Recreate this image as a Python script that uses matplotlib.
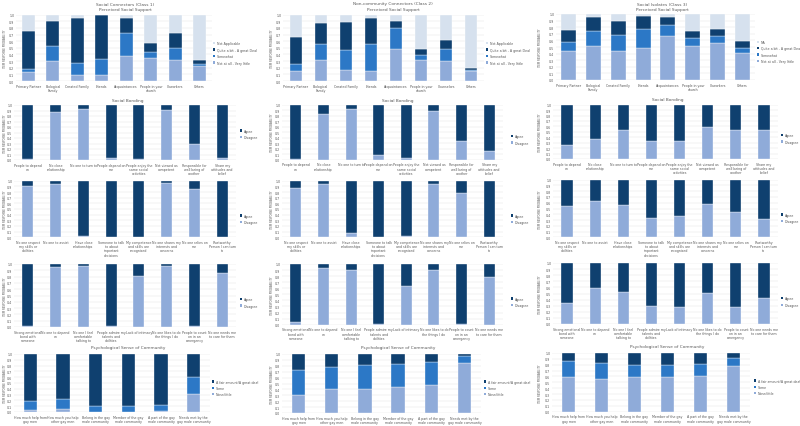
import numpy as np
import matplotlib
matplotlib.use('Agg')
import matplotlib.pyplot as plt
from matplotlib.patches import Patch

# ---------------- DATA ----------------
support_cats_c1 = ["Primary Partner", "Biological\nFamily", "Created Family", "Friends",
                   "Acquaintances", "People in your\nchurch", "Coworkers", "Others"]
support_cats_c2 = ["Primary Partner", "Biological\nFamily", "Created Family", "Friends",
                   "Acquaintances", "People in your\nchurch", "Counselors", "Others"]
support_cats_c3 = support_cats_c1

# Perceived social support (segments: not at all/very little, somewhat, quite a bit/great deal, not applicable)
c1_notatall = [0.13, 0.30, 0.095, 0.085, 0.375, 0.345, 0.31, 0.22]
c1_somewhat = [0.055, 0.225, 0.18, 0.25, 0.345, 0.09, 0.185, 0.04]
c1_quite = [0.575, 0.38, 0.675, 0.655, 0.23, 0.14, 0.23, 0.06]
c1_na = [0.24, 0.095, 0.05, 0.01, 0.05, 0.425, 0.275, 0.68]

c2_notatall = [0.15, 0.31, 0.165, 0.15, 0.49, 0.31, 0.30, 0.15]
c2_somewhat = [0.10, 0.245, 0.305, 0.405, 0.31, 0.085, 0.19, 0.015]
c2_quite = [0.42, 0.32, 0.415, 0.395, 0.11, 0.095, 0.125, 0.025]
c2_na = [0.33, 0.125, 0.115, 0.05, 0.09, 0.51, 0.385, 0.81]

c3_notatall = [0.445, 0.52, 0.445, 0.49, 0.67, 0.52, 0.555, 0.41]
c3_somewhat = [0.135, 0.22, 0.235, 0.29, 0.165, 0.115, 0.115, 0.075]
c3_quite = [0.18, 0.21, 0.22, 0.19, 0.125, 0.115, 0.11, 0.11]
c3_na = [0.24, 0.05, 0.10, 0.03, 0.04, 0.25, 0.22, 0.405]

bonding_cats_a = ["People to depend\non", "No close\nrelationship", "No one to turn to",
                  "People depend on\nme", "People enjoy the\nsame social\nactivities",
                  "Not viewed as\ncompetent", "Responsible for\nwell being of\nanother",
                  "Share my\nattitudes and\nbelief"]
bonding_cats_b = ["No one respect\nmy skills or\nabilities", "No one to assist",
                  "Have close\nrelationships", "Someone to talk\nto about\nimportant\ndecisions",
                  "My competence\nand skills are\nrecognized", "No one shares my\ninterests and\nconcerns",
                  "No one relies on\nme", "Trustworthy\nPerson I can turn\nto"]
bonding_cats_c = ["Strong emotional\nbond with\nsomeone", "No one to depend\non",
                  "No one I feel\ncomfortable\ntalking to", "People admire my\ntalents and\nabilities",
                  "Lack of intimacy", "No one likes to do\nthe things I do",
                  "People to count\non in an\nemergency", "No one needs me\nto care for them"]

c1_a_disagree = [0.01, 0.87, 0.93, 0.04, 0.01, 0.91, 0.30, 0.03]
c1_a_agree = [0.99, 0.13, 0.07, 0.96, 0.99, 0.09, 0.70, 0.97]
c2_a_disagree = [0.01, 0.83, 0.915, 0.09, 0.03, 0.89, 0.34, 0.15]
c2_a_agree = [0.99, 0.17, 0.085, 0.91, 0.97, 0.11, 0.66, 0.85]
c3_a_disagree = [0.265, 0.37, 0.54, 0.33, 0.34, 0.59, 0.54, 0.53]
c3_a_agree = [0.735, 0.63, 0.46, 0.67, 0.66, 0.41, 0.46, 0.47]

c1_b_disagree = [0.91, 0.95, 0.03, 0.005, 0.005, 0.96, 0.855, 0.005]
c1_b_agree = [0.09, 0.05, 0.97, 0.995, 0.995, 0.04, 0.145, 0.995]
c2_b_disagree = [0.87, 0.95, 0.07, 0.01, 0.03, 0.945, 0.79, 0.01]
c2_b_agree = [0.13, 0.05, 0.93, 0.99, 0.97, 0.055, 0.21, 0.99]
c3_b_disagree = [0.54, 0.635, 0.56, 0.335, 0.365, 0.57, 0.435, 0.31]
c3_b_agree = [0.46, 0.365, 0.44, 0.665, 0.635, 0.43, 0.565, 0.69]

c1_c_disagree = [0.02, 0.95, 0.97, 0.02, 0.805, 0.965, 0.02, 0.86]
c1_c_agree = [0.98, 0.05, 0.03, 0.98, 0.195, 0.035, 0.98, 0.14]
c2_c_disagree = [0.05, 0.935, 0.905, 0.01, 0.63, 0.90, 0.01, 0.78]
c2_c_agree = [0.95, 0.065, 0.095, 0.99, 0.37, 0.10, 0.99, 0.22]
c3_c_disagree = [0.35, 0.585, 0.52, 0.29, 0.28, 0.51, 0.28, 0.43]
c3_c_agree = [0.65, 0.415, 0.48, 0.71, 0.72, 0.49, 0.72, 0.57]

community_cats = ["How much help from\ngay men", "How much you help\nother gay men",
                  "Belong in the gay\nmale community", "Member of the gay\nmale community",
                  "A part of the gay\nmale community", "Needs met by the\ngay male community"]
c1_none = [0.035, 0.045, 0.005, 0.005, 0.01, 0.315]
c1_some = [0.155, 0.185, 0.095, 0.095, 0.105, 0.295]
c1_fair = [0.81, 0.77, 0.90, 0.90, 0.885, 0.39]
c2_none = [0.305, 0.405, 0.405, 0.445, 0.475, 0.85]
c2_some = [0.425, 0.38, 0.41, 0.385, 0.385, 0.11]
c2_fair = [0.27, 0.215, 0.185, 0.17, 0.14, 0.04]
c3_none = [0.59, 0.55, 0.59, 0.59, 0.60, 0.78]
c3_some = [0.27, 0.28, 0.20, 0.20, 0.205, 0.14]
c3_fair = [0.14, 0.17, 0.21, 0.21, 0.195, 0.08]

support_labels_c1 = ["Not Applicable", "Quite a bit - A great Deal", "Somewhat", "Not at all - Very little"]
support_labels_c3 = ["NA", "Quite a bit - A great Deal", "Somewhat", "Not at all - Very little"]
bond_labels = ["Agree", "Disagree"]
comm_labels = ["A fair amount/A great deal", "Some", "None/little"]

# ---------------- STYLE ----------------
DARK = '#0F406F'
MED = '#2C78C6'
LIGHT = '#8FABD9'
NA = '#D6E1EE'
TXT = '#595959'
FS = 2.35

W, H = 800, 427
fig = plt.figure(figsize=(8, 4.27), dpi=100)
fig.patch.set_facecolor('white')


def axes_px(l, r, t, b):
    return fig.add_axes([l / W, 1 - b / H, (r - l) / W, (b - t) / H])


def draw(box, cats, series, colors, width, labels, leg_xy, ylab_x):
    l, r, t, b = box
    ax = axes_px(l, r, t, b)
    x = np.arange(len(cats))
    bottom = np.zeros(len(cats))
    for vals, c in zip(series, colors):
        ax.bar(x, vals, width, bottom=bottom, color=c, edgecolor='white', linewidth=0.25, zorder=2)
        bottom = bottom + np.array(vals)
    ax.set_xlim(-0.5, len(cats) - 0.5)
    ax.set_ylim(0, 1)
    yt = np.round(np.arange(0, 1.01, 0.1), 1)
    ax.set_yticks(yt)
    ax.set_yticklabels([f'{v:.1f}' for v in yt])
    ax.grid(axis='y', color='#E3E3E3', linewidth=0.35, zorder=0)
    ax.set_axisbelow(True)
    for s in ax.spines.values():
        s.set_visible(False)
    ax.tick_params(length=0, labelsize=FS, colors=TXT, pad=1.2)
    ax.set_xticks(x)
    ax.set_xticklabels(cats, fontsize=FS, linespacing=1.05, color=TXT)
    ax.tick_params(axis='x', pad=2.0)
    handles = [Patch(facecolor=c, edgecolor='none') for c in reversed(colors)]
    fig.legend(handles, labels, loc='center left',
               bbox_to_anchor=(leg_xy[0] / W, 1 - leg_xy[1] / H),
               frameon=False, fontsize=FS, handlelength=0.7, handleheight=0.7,
               handletextpad=0.4, labelspacing=0.75, borderpad=0, borderaxespad=0,
               labelcolor=TXT)
    fig.text(ylab_x / W, 1 - ((t + b) / 2) / H, "ITEM RESPONSE PROBABILITY",
             rotation=90, ha='center', va='center', fontsize=1.9, color=TXT)
    return ax


def title(x, y, s):
    fig.text(x / W, 1 - y / H, s, ha='center', va='center', fontsize=3.1, color=TXT)


sup_cols = [LIGHT, MED, DARK, NA]
bond_cols = [LIGHT, DARK]
comm_cols = [LIGHT, MED, DARK]

# Column 1
title(125, 4.5, "Social Connectors (Class 1)")
title(125, 10.5, "Perceived Social Support")
draw((16, 212, 15.7, 82), support_cats_c1, [c1_notatall, c1_somewhat, c1_quite, c1_na], sup_cols, 0.55,
     support_labels_c1, (213, 54), 5)
title(128, 100.7, "Social Bonding")
draw((14, 236, 106, 161), bonding_cats_a, [c1_a_disagree, c1_a_agree], bond_cols, 0.4, bond_labels, (240, 135), 5)
draw((14, 236, 181.7, 238.3), bonding_cats_b, [c1_b_disagree, c1_b_agree], bond_cols, 0.4, bond_labels, (240, 220), 5)
draw((14, 236, 265, 328), bonding_cats_c, [c1_c_disagree, c1_c_agree], bond_cols, 0.4, bond_labels, (240, 303.5), 5)
title(128, 348, "Psychological Sense of Community")
draw((14, 210, 355, 413), community_cats, [c1_none, c1_some, c1_fair], comm_cols, 0.4, comm_labels, (212, 389), 5)

# Column 2
title(393, 4.5, "Non-community Connectors (Class 2)")
title(393, 10.5, "Perceived Social Support")
draw((283, 484, 15.7, 82), support_cats_c2, [c2_notatall, c2_somewhat, c2_quite, c2_na], sup_cols, 0.48,
     support_labels_c1, (486, 54), 272)
title(398, 100.7, "Social Bonding")
draw((282, 503, 105.7, 160.7), bonding_cats_a, [c2_a_disagree, c2_a_agree], bond_cols, 0.4, bond_labels, (511, 140.5), 272)
draw((282, 503, 181.7, 238.3), bonding_cats_b, [c2_b_disagree, c2_b_agree], bond_cols, 0.4, bond_labels, (511, 220), 272)
draw((282, 503, 265, 325.7), bonding_cats_c, [c2_c_disagree, c2_c_agree], bond_cols, 0.4, bond_labels, (511, 303), 272)
title(398, 348, "Psychological Sense of Community")
draw((282, 481, 355, 414), community_cats, [c2_none, c2_some, c2_fair], comm_cols, 0.4, comm_labels, (484, 389), 272)

# Column 3
title(662, 4.5, "Social Isolates (Class 3)")
title(662, 10.5, "Perceived Social Support")
draw((556, 755, 15, 81), support_cats_c3, [c3_notatall, c3_somewhat, c3_quite, c3_na], sup_cols, 0.6,
     support_labels_c3, (757, 52.5), 540)
title(668, 100, "Social Bonding")
draw((553, 778, 105.7, 160), bonding_cats_a, [c3_a_disagree, c3_a_agree], bond_cols, 0.4, bond_labels, (781, 139.5), 540)
draw((553, 778, 180.7, 238.3), bonding_cats_b, [c3_b_disagree, c3_b_agree], bond_cols, 0.4, bond_labels, (781, 219), 540)
draw((553, 778, 264, 325), bonding_cats_c, [c3_c_disagree, c3_c_agree], bond_cols, 0.4, bond_labels, (781, 302.7), 540)
title(667, 347, "Psychological Sense of Community")
draw((552, 750, 354, 412.7), community_cats, [c3_none, c3_some, c3_fair], comm_cols, 0.4, comm_labels, (754, 388), 540)

fig.savefig('out.png', dpi=100, facecolor='white')
